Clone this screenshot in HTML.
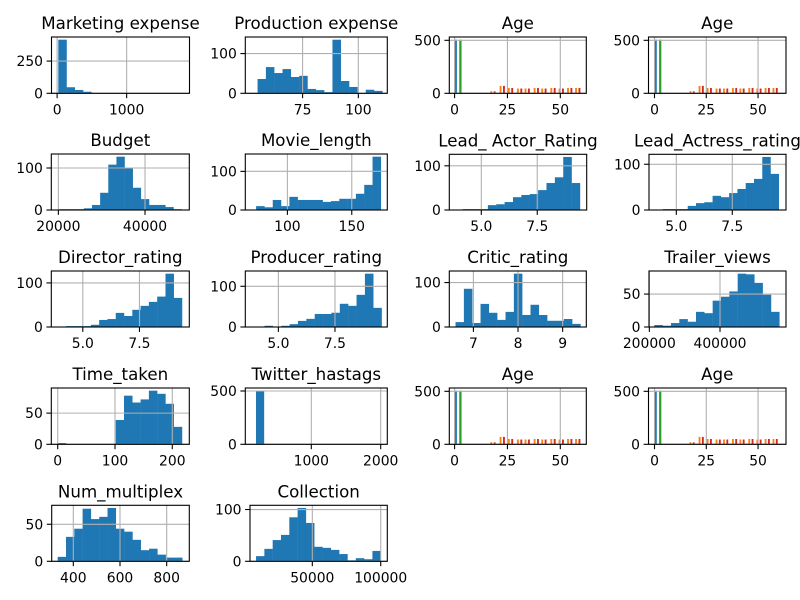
<!DOCTYPE html>
<html>
<head>
<meta charset="utf-8">
<style>
  html,body{margin:0;padding:0;background:#fff;}
  svg{display:block;font-family:"DejaVu Sans","Liberation Sans",sans-serif;}
</style>
</head>
<body>
<svg id="fig" width="800" height="600" viewBox="0 0 800 600" xmlns="http://www.w3.org/2000/svg">
  <rect x="0" y="0" width="800" height="600" fill="#ffffff"></rect>
</svg>
<script>
// ---------- data ----------
const marketingCounts = [416,47,26,12,2,1,0,0,1,0,0,0,0,0,1];
const marketingXTicks = [0,1000];
const marketingXLabels = ['0','1000'];
const marketingYTicks = [0,250];

const productionCounts = [36,66,51,61,41,44,11,8,3,135,31,16,0,9,6];
const productionXTicks = [75,100];
const productionYTicks = [0,100];

const budgetCounts = [2,2,2,4,12,41,108,127,100,53,26,12,12,7,2];
const budgetXTicks = [20000,40000];
const budgetYTicks = [0,100];

const movieLengthCounts = [10,7,26,10,34,26,26,26,21,23,29,29,42,65,138];
const movieLengthXTicks = [100,150];
const movieLengthYTicks = [0,100];

const leadActorCounts = [2,2,2,11,13,18,29,34,36,45,61,74,120,61];
const leadActressCounts = [2,2,2,9,15,17,31,28,37,46,59,68,116,79];
const ratingXTicks = [5.0,7.5];
const ratingXLabels = ['5.0','7.5'];
const ratingYTicks = [0,100];

const directorCounts = [2,2,2,5,16,18,32,25,39,48,57,69,121,66];
const producerCounts = [0,3,0,3,7,15,20,32,32,35,57,52,79,131,47];

const criticCounts = [11,86,9,52,32,16,34,120,27,50,27,14,14,18,7];
const criticXTicks = [7,8,9];
const criticYTicks = [0,100];

const trailerCounts = [3,2,6,12,8,23,21,40,46,54,81,80,67,49,23];
const trailerXTicks = [200000,400000];
const trailerYTicks = [0,50];

const timeTakenCounts = [2,0,0,0,0,0,0,39,78,67,72,86,81,65,28];
const timeTakenXTicks = [0,100,200];
const timeTakenYTicks = [0,50];

const twitterCounts = [503,2,0,0,0,0,0,0,0,0,0,0,0,0,1];
const twitterXTicks = [1000,2000];
const twitterYTicks = [0,500];

const multiplexCounts = [6,33,44,71,57,60,72,44,40,29,15,17,9,5,5];
const multiplexXTicks = [400,600,800];
const multiplexYTicks = [0,50];

const collectionCounts = [10,24,41,51,85,103,74,28,26,22,14,2,6,4,20];
const collectionXTicks = [50000,100000];
const collectionYTicks = [0,100];

// Age multi-series bars (left edge in data units, heights)
const ageBlueX = [0.0];
const ageBlueH = [506];
const ageGreenX = [2.2];
const ageGreenH = [506];
const ageOrangeX = [16.9,21.3,25.2,29.5,33.1,37.4,41.0,45.3,49.2,53.2,57.0];
const ageOrangeH = [20,70,50,45,45,50,45,50,45,50,50];
const ageRedX = [18.5,22.9,26.8,31.1,34.7,39.0,42.6,46.9,50.8,54.8,58.6];
const ageRedH = [18,70,50,45,45,50,45,50,45,50,50];
const ageXTicks = [0,25,50];
const ageYTicks = [0,500];

// ---------- layout ----------
const plots = [
 {id:'marketing-expense', title:'Marketing expense', box:[51.5,37,189.5,93.3], xlim:[-81,1904], range:[17,1800], counts:marketingCounts, xt:marketingXTicks, xl:marketingXLabels, yt:marketingYTicks},
 {id:'production-expense', title:'Production expense', box:[245.3,37,387.3,93.3], xlim:[49.3,113.0], range:[54.8,110.8], counts:productionCounts, xt:productionXTicks, yt:productionYTicks},
 {id:'age-1', title:'Age', box:[449.3,37,586.3,93.3], xlim:[-2.5,62.3], age:true},
 {id:'age-2', title:'Age', box:[648.5,37,786,93.3], xlim:[-2.9,63.5], age:true},

 {id:'budget', title:'Budget', box:[51.3,154,189.3,210], xlim:[18370,50220], range:[20230,48460], counts:budgetCounts, xt:budgetXTicks, yt:budgetYTicks},
 {id:'movie-length', title:'Movie_length', box:[245.3,154,387.3,210], xlim:[67.3,177.6], range:[75.7,172.6], counts:movieLengthCounts, xt:movieLengthXTicks, yt:movieLengthYTicks},
 {id:'lead-actor-rating', title:'Lead_ Actor_Rating', box:[449.3,154.3,586.7,210], xlim:[3.57,9.71], range:[4.17,9.41], counts:leadActorCounts, xt:ratingXTicks, xl:ratingXLabels, yt:ratingYTicks},
 {id:'lead-actress-rating', title:'Lead_Actress_rating', box:[649,154.3,786,210], xlim:[3.78,9.9], range:[4.4,9.58], counts:leadActressCounts, xt:ratingXTicks, xl:ratingXLabels, yt:ratingYTicks},

 {id:'director-rating', title:'Director_rating', box:[51.3,271,189.3,327], xlim:[3.61,9.70], range:[4.26,9.38], counts:directorCounts, xt:ratingXTicks, xl:ratingXLabels, yt:ratingYTicks},
 {id:'producer-rating', title:'Producer_rating', box:[245.3,271,387.3,327], xlim:[3.54,9.81], range:[4.02,9.56], counts:producerCounts, xt:ratingXTicks, xl:ratingXLabels, yt:ratingYTicks},
 {id:'critic-rating', title:'Critic_rating', box:[449.3,271,586.3,327], xlim:[6.46,9.53], range:[6.6,9.4], counts:criticCounts, xt:criticXTicks, yt:criticYTicks},
 {id:'trailer-views', title:'Trailer_views', box:[649,271,786,327], xlim:[199000,586800], range:[214000,568000], counts:trailerCounts, xt:trailerXTicks, yt:trailerYTicks},

 {id:'time-taken', title:'Time_taken', box:[51.3,388,189.3,444.3], xlim:[-11.2,229.7], range:[0,217], counts:timeTakenCounts, xt:timeTakenXTicks, yt:timeTakenYTicks},
 {id:'twitter-hastags', title:'Twitter_hastags', box:[245.3,388,387.3,444.3], xlim:[49,2095], range:[203,1928], counts:twitterCounts, xt:twitterXTicks, yt:twitterYTicks},
 {id:'age-3', title:'Age', box:[449.3,388,586.3,444.3], xlim:[-2.5,62.3], age:true},
 {id:'age-4', title:'Age', box:[648.5,388,786,444.3], xlim:[-2.9,63.5], age:true},

 {id:'num-multiplex', title:'Num_multiplex', box:[51.7,505.3,189.3,561.3], xlim:[307.4,896.9], range:[333,867], counts:multiplexCounts, xt:multiplexXTicks, yt:multiplexYTicks},
 {id:'collection', title:'Collection', box:[250,505.3,387.3,561.3], xlim:[4460,104800], range:[8880,100000], counts:collectionCounts, xt:collectionXTicks, yt:collectionYTicks}
];

const NS = 'http://www.w3.org/2000/svg';
const svg = document.getElementById('fig');
function mk(tag, attrs, parent){
  const e = document.createElementNS(NS, tag);
  for (const k in attrs) e.setAttribute(k, attrs[k]);
  parent.appendChild(e);
  return e;
}

plots.forEach(p => {
  const [L,T,R,B] = p.box;
  const g = mk('g', {}, svg);
  
  
  const x0 = p.xlim[0], x1 = p.xlim[1];
  const sx = v => L + (v - x0) / (x1 - x0) * (R - L);
  let ytop;
  if (p.age) ytop = Math.max(...ageBlueH, ...ageGreenH) * 1.05;
  else ytop = Math.max(...p.counts) * 1.05;
  const sy = v => B - v / ytop * (B - T);

  // bars
  if (p.age) {
    const series = [[ageBlueX,ageBlueH,'#1f77b4',1.1,'blue'],[ageOrangeX,ageOrangeH,'#ff7f0e',0.9,'orange'],[ageGreenX,ageGreenH,'#2ca02c',1.1,'green'],[ageRedX,ageRedH,'#d62728',0.9,'red']];
    series.forEach(s => {
      s[0].forEach((xv,i) => {
        const r = mk('rect', {x:sx(xv), y:sy(s[1][i]), width:sx(xv+s[3])-sx(xv), height:B-sy(s[1][i]), fill:s[2]}, g);
        
        
      });
    });
  } else {
    const n = p.counts.length;
    const w = (p.range[1] - p.range[0]) / n;
    p.counts.forEach((c,i) => {
      if (c <= 0) return;
      const a = p.range[0] + i*w;
      const r = mk('rect', {x:sx(a), y:sy(c), width:sx(a+w)-sx(a)+0.2, height:B-sy(c), fill:'#1f77b4'}, g);
      
      
    });
  }

  const xt = p.age ? ageXTicks : p.xt;
  const yt = p.age ? ageYTicks : p.yt;
  const xl = p.xl || xt.map(String);

  // grid (drawn above bars)
  xt.forEach(v => {
    const X = sx(v);
    const l = mk('line', {x1:X, x2:X, y1:T, y2:B, stroke:'#b0b0b0', 'stroke-width':1.1}, g);
    
    
  });
  yt.forEach(v => {
    const Y = sy(v);
    const l = mk('line', {x1:L, x2:R, y1:Y, y2:Y, stroke:'#b0b0b0', 'stroke-width':1.1}, g);
    
    
  });

  // frame
  const fr = mk('rect', {x:L, y:T, width:R-L, height:B-T, fill:'none', stroke:'#000', 'stroke-width':1.1}, g);
  
  

  // ticks + labels
  xt.forEach((v,i) => {
    const X = sx(v);
    const t = mk('line', {x1:X, x2:X, y1:B, y2:B+4.9, stroke:'#000', 'stroke-width':1.1}, g);
    
    
    const tx = mk('text', {x:X, y:B+21, 'text-anchor':'middle', 'font-size':'13.9px', fill:'#000'}, g);
    tx.textContent = xl[i];
    
    
  });
  yt.forEach(v => {
    const Y = sy(v);
    const t = mk('line', {x1:L-4.9, x2:L, y1:Y, y2:Y, stroke:'#000', 'stroke-width':1.1}, g);
    
    
    const tx = mk('text', {x:L-8.5, y:Y+5, 'text-anchor':'end', 'font-size':'13.9px', fill:'#000'}, g);
    tx.textContent = String(v);
    
    
  });

  // title
  const ti = mk('text', {x:(L+R)/2, y:T-8, 'text-anchor':'middle', 'font-size':'16.67px', fill:'#000'}, g);
  ti.textContent = p.title;
  
  
});
</script>
</body>
</html>
